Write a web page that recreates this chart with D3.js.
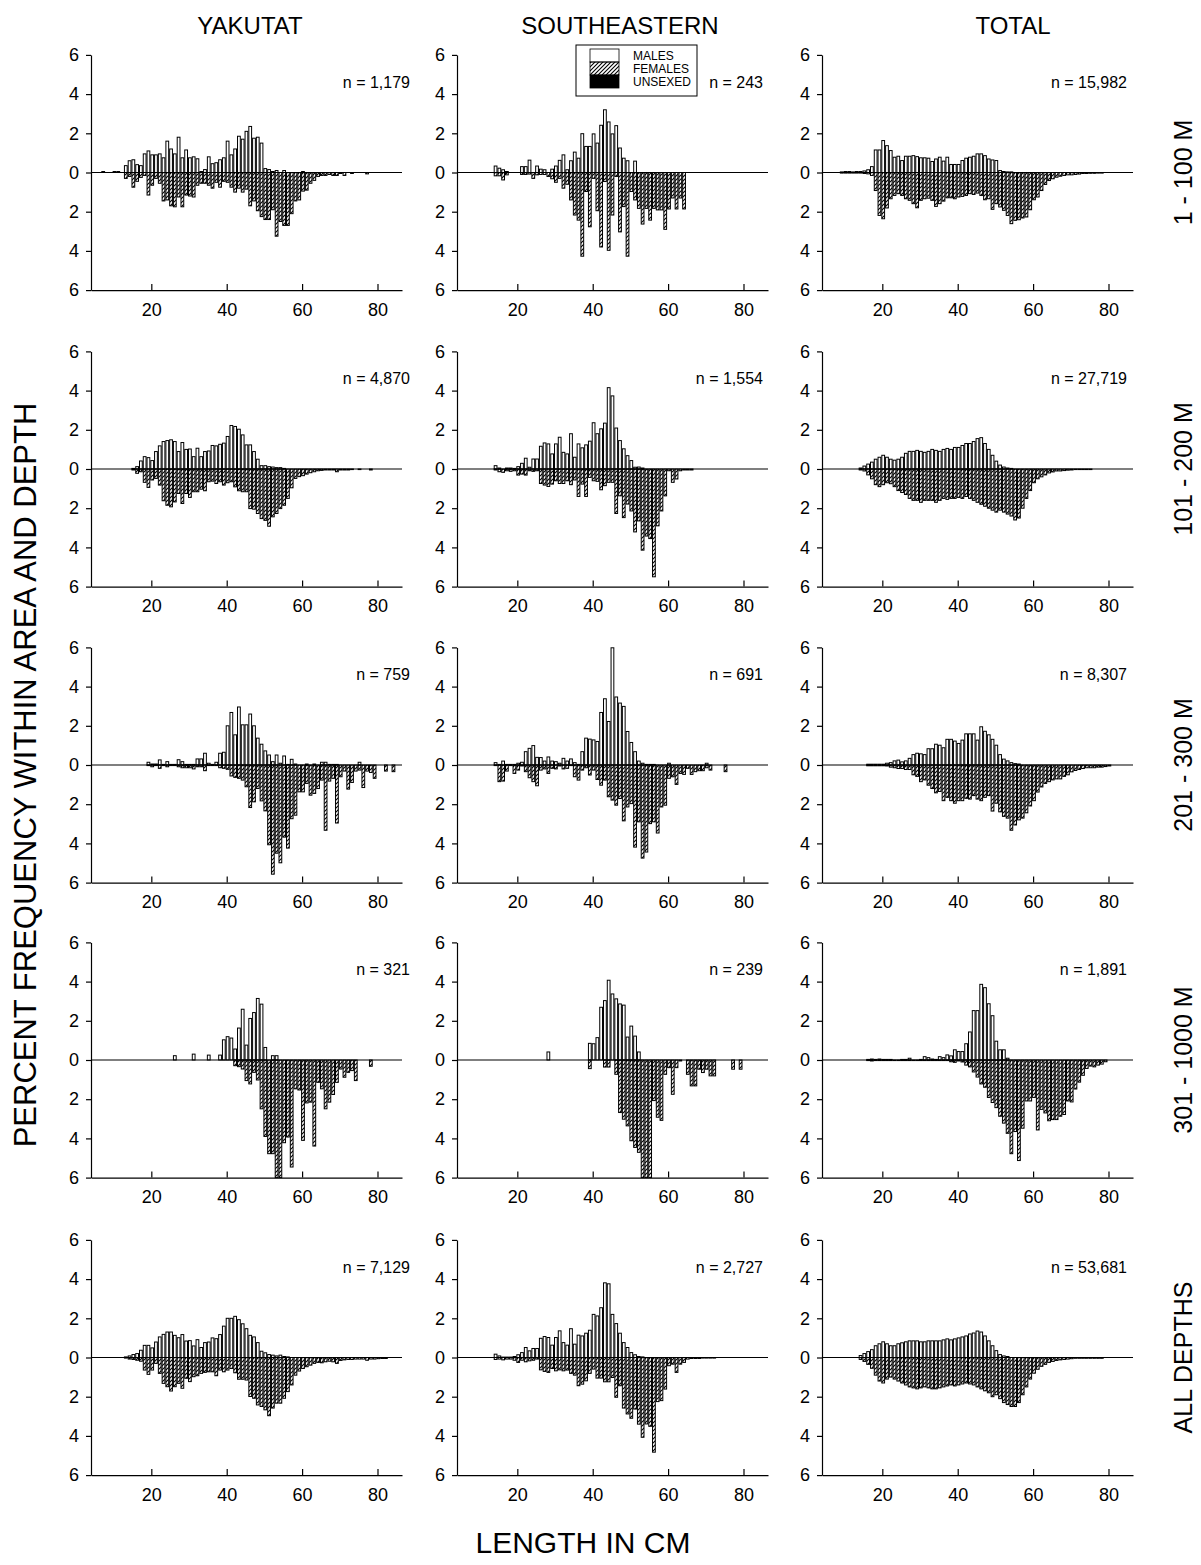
<!DOCTYPE html>
<html>
<head>
<meta charset="utf-8">
<script src="https://cdn.jsdelivr.net/npm/d3@7"></script>
<style>
  body { margin: 0; background: #fff; }
  svg text { font-family: 'Liberation Sans', Arial, Helvetica, sans-serif; fill: #000; }
</style>
</head>
<body>
<svg id="chart" width="1201" height="1565"></svg>
<script>
const areas = ['YAKUTAT', 'SOUTHEASTERN', 'TOTAL']
const depths = ['1 - 100 M', '101 - 200 M', '201 - 300 M', '301 - 1000 M', 'ALL DEPTHS']
const sampleSizes = [
  ['1,179', '243', '15,982'],
  ['4,870', '1,554', '27,719'],
  ['759', '691', '8,307'],
  ['321', '239', '1,891'],
  ['7,129', '2,727', '53,681']
]
const yTickValues = [-6, -4, -2, 0, 2, 4, 6]
const xTickValues = [20, 40, 60, 80]
const legendItems = ['MALES', 'FEMALES', 'UNSEXED']

// percent per 1-cm length class, first value belongs to the *Start length (cm)
const yak1Start = 7
const yak1Males = [0.05, 0, 0, 0.05, 0.05, 0, 0.35, 0.6, 0.65, 0.4, 0.35, 0.95, 1.1,
  0.9, 0.9, 0.95, 0.75, 1.6, 1.2, 0.95, 1.8, 0.75, 1.15,
  0.75, 0.8, 0.7, 0.05, 0.15, 0.8, 0.45, 0.5, 0.65, 0.75,
  1.6, 0.9, 1.2, 1.85, 1.7, 2.1, 2.35, 1.75, 1.8, 1.5,
  0.2, 0.15, 0.05, 0.1, 0, 0.1, 0, 0, 0, 0, 0.05]
const yak1Females = [0, 0, 0, 0, 0, 0, 0.3, 0.2, 0.75, 0.45, 0.25, 0.15, 1.15,
  0.65, 0.3, 0.55, 1.45, 1.4, 1.7, 1.75, 1.25, 1.75, 1.15,
  1.2, 1.25, 0.65, 0.55, 0.55, 0.65, 0.8, 0.5, 0.75, 0.45,
  0.5, 0.75, 1.0, 0.8, 1.0, 0.85, 1.7, 1.45, 1.95, 2.25,
  2.4, 2.4, 1.9, 3.25, 2.5, 2.7, 2.7, 2.1, 1.45, 1.4,
  0.95, 0.9, 0.55, 0.4, 0.2, 0.15, 0.15, 0.1, 0.15, 0.15,
  0.05, 0.15, 0, 0.05, 0, 0, 0, 0.07]

const se1Start = 14
const se1Males = [0.33, 0.22, 0.14, 0.05, 0, 0,
  0, 0.3, 0.3, 0.63, 0, 0.33, 0.17, 0.14, 0, 0.17,
  0.33, 0.62, 0.9, 0.14, 0.6, 1.04, 0.73, 1.98, 1.33, 1.33,
  1.97, 1.5, 2.41, 3.2, 2.58, 1.97, 2.39, 1.25, 0.73, 0.6,
  0, 0.58]
const se1Females = [0.17, 0.17, 0.38, 0.12, 0, 0,
  0, 0.1, 0.1, 0.08, 0.3, 0.12, 0.1, 0.1, 0.2, 0.32,
  0.5, 0.3, 0.8, 0.6, 1.4, 2.17, 2.43, 4.27, 0.97, 2.77,
  0.3, 1.95, 3.8, 0.46, 3.97, 2.17, 0.2, 3.03, 1.74, 4.27,
  0.97, 1.4, 1.83, 2.63, 1.83, 2.43, 1.83, 1.91, 1.91, 2.9,
  1.86, 1.3, 1.86, 1.3, 1.86]

const tot1Start = 9
const tot1Males = [0.03, 0.05, 0.05, 0.03, 0.05, 0.05, 0.08, 0.14, 0.3, 1.15, 1.15,
  1.63, 1.37, 1.12, 0.78, 0.83, 0.61, 0.83, 0.83, 0.86, 0.81,
  0.75, 0.75, 0.73, 0.56, 0.69, 0.78, 0.58, 0.78, 0.41, 0.41,
  0.41, 0.61, 0.73, 0.78, 0.83, 0.95, 0.95, 0.86, 0.69, 0.64,
  0.61, 0.1, 0.05, 0.03, 0.03]
const tot1Females = [0.03, 0.03, 0.03, 0.03, 0.03, 0.03, 0.05, 0.07, 0.15, 0.92, 2.19,
  2.36, 1.81, 1.34, 1.17, 1.08, 1.17, 1.34, 1.42, 1.59, 1.8,
  1.42, 1.34, 1.31, 1.42, 1.73, 1.59, 1.46, 1.29, 1.29, 1.34,
  1.25, 1.22, 1.17, 1.08, 1.12, 1.05, 1.17, 1.39, 1.34, 1.88,
  1.59, 1.76, 1.93, 2.19, 2.61, 2.44, 2.41, 2.32, 2.27, 1.9,
  1.39, 1.25, 0.92, 0.61, 0.41, 0.32, 0.24, 0.19, 0.15, 0.12,
  0.12, 0.1, 0.08, 0.05, 0.05, 0.04, 0.04, 0.03, 0.03]

const yak2Start = 15
const yak2Males = [0.03, 0.12, 0.41, 0.63, 0.58,
  0.43, 0.89, 1.18, 1.4, 1.45, 1.49, 1.4, 0.89, 1.35, 1.0,
  1.02, 0.63, 1.06, 0.63, 0.89, 0.92, 1.2, 1.18, 1.26, 1.32,
  1.66, 2.22, 2.17, 2.03, 1.74, 1.23, 1.23, 0.89, 0.5, 0.17,
  0.17, 0.12, 0.1, 0.07, 0.07, 0.03]
const yak2Females = [0.05, 0.22, 0.14, 0.68, 0.94,
  0.56, 0.48, 0.82, 1.62, 1.85, 1.93, 1.68, 1.25, 1.76, 1.25,
  1.45, 1.16, 1.16, 1.03, 1.11, 0.65, 0.62, 0.74, 0.65, 0.82,
  0.7, 0.65, 0.91, 1.11, 1.16, 1.16, 2.02, 2.05, 2.27, 2.53,
  2.62, 2.92, 2.44, 2.27, 2.02, 1.85, 1.5, 0.96, 0.48, 0.39,
  0.34, 0.26, 0.19, 0.14, 0.09, 0.07, 0.05, 0.05, 0.05, 0.14,
  0.05, 0.05, 0.05, 0.03, 0, 0.03, 0, 0, 0.05]

const se2Start = 14
const se2Males = [0.17, 0.05, 0, 0.05, 0.05, 0.03,
  0.12, 0.29, 0.55, 0.09, 0.51, 0.51, 1.16, 1.33, 1.28, 0.77,
  1.28, 1.62, 0.85, 0.77, 1.8, 0.6, 1.28, 1.08, 1.23, 1.42,
  2.36, 1.8, 2.05, 2.34, 4.15, 3.73, 2.09, 1.45, 1.03, 0.68,
  0.43, 0.09, 0.1, 0.05]
const se2Females = [0.05, 0.14, 0.17, 0.09, 0.12, 0.09,
  0.31, 0.26, 0.31, 0.09, 0.12, 0.09, 0.74, 0.82, 0.89, 0.77,
  0.6, 0.74, 0.74, 0.6, 0.8, 0.56, 1.4, 0.77, 1.4, 0.43,
  0.6, 0.63, 1.06, 0.85, 0.68, 0.68, 2.27, 1.37, 2.48, 1.79,
  2.14, 3.21, 2.65, 4.14, 3.42, 3.55, 5.5, 2.9, 2.14, 1.37,
  0.09, 0.68, 0.51, 0.09, 0.05, 0.05, 0.05]

const tot2Start = 14
const tot2Males = [0.05, 0.15, 0.25, 0.35, 0.5, 0.6,
  0.7, 0.6, 0.5, 0.45, 0.5, 0.6, 0.8, 0.9, 0.9, 0.95,
  0.9, 0.85, 0.9, 1.0, 0.95, 0.9, 1.0, 1.05, 1.0, 1.1,
  1.1, 1.2, 1.3, 1.3, 1.4, 1.55, 1.6, 1.3, 1.0, 0.7,
  0.4, 0.2, 0.1, 0.05, 0.03]
const tot2Females = [0.05, 0.1, 0.3, 0.5, 0.8, 0.9,
  0.8, 0.7, 0.75, 0.9, 1.1, 1.2, 1.3, 1.5, 1.6, 1.6,
  1.7, 1.6, 1.6, 1.6, 1.7, 1.6, 1.5, 1.55, 1.5, 1.5,
  1.45, 1.5, 1.4, 1.5, 1.6, 1.7, 1.8, 1.9, 2.0, 2.1,
  2.2, 2.1, 2.2, 2.3, 2.4, 2.6, 2.5, 2.0, 1.5, 1.1,
  0.7, 0.5, 0.4, 0.3, 0.2, 0.15, 0.1, 0.1, 0.08, 0.06,
  0.05, 0.03, 0.03, 0.03, 0.03, 0.03]

const yak3Start = 19
const yak3Males = [0.14,
  0.05, 0.05, 0.26, 0.03, 0.17, 0.03, 0.03, 0.27, 0.17, 0.03,
  0.03, 0.03, 0.31, 0.31, 0.6, 0.09, 0.03, 0.14, 0.6, 0.65,
  2.0, 2.68, 1.54, 2.96, 2.05, 2.05, 2.6, 2.0, 1.37, 1.06,
  0.72, 0.51, 0.17, 0.51, 0.09, 0.46, 0.03, 0.29, 0.05, 0,
  0, 0.05, 0, 0.05, 0, 0.14, 0.14, 0.03, 0.03, 0.03,
  0, 0, 0, 0, 0, 0.14]
const yak3Females = [0.03,
  0.09, 0.03, 0.17, 0.03, 0.09, 0.03, 0.03, 0.09, 0.14, 0.14,
  0.14, 0.2, 0.09, 0.09, 0.29, 0.03, 0.03, 0.03, 0.14, 0.17,
  0.22, 0.56, 0.63, 0.68, 0.77, 1.11, 2.17, 1.88, 1.2, 1.83,
  2.34, 4.07, 5.57, 4.5, 4.99, 3.68, 4.24, 2.74, 2.56, 1.37,
  1.37, 0.94, 1.54, 1.45, 1.2, 0.77, 3.33, 0.82, 0.68, 2.96,
  0.6, 0.31, 1.23, 0.89, 0.31, 0.26, 1.15, 0.31, 0.38, 0.68,
  0, 0, 0.31, 0, 0.34]

const se3Start = 14
const se3Males = [0.12, 0.03, 0.2, 0.03, 0.03, 0.03,
  0.09, 0.14, 0.68, 0.85, 0.99, 0.39, 0.38, 0.2, 0.41, 0.2,
  0.17, 0.09, 0.34, 0.2, 0.31, 0.12, 0.03, 0.68, 1.37, 1.32,
  1.28, 1.2, 2.68, 3.38, 2.22, 5.98, 3.47, 3.16, 2.99, 1.71,
  1.15, 0.68, 0.2, 0.09, 0.03, 0.03, 0.03, 0, 0, 0,
  0.09, 0, 0, 0, 0, 0, 0, 0, 0, 0, 0.09]
const se3Females = [0.03, 0.85, 0.82, 0.31, 0.03, 0.43,
  0.26, 0.05, 0.34, 0.65, 0.85, 1.06, 0.26, 0.2, 0.43, 0.17,
  0.2, 0.05, 0.2, 0.17, 0.03, 0.6, 0.77, 0.26, 0.14, 0.51,
  0.26, 0.74, 1.03, 0.77, 1.62, 1.79, 2.05, 1.71, 2.85, 2.14,
  1.97, 4.19, 2.9, 4.75, 4.44, 2.99, 2.9, 3.47, 2.14, 2.05,
  0.68, 0.6, 0.99, 0.43, 0.48, 0.17, 0.48, 0.34, 0.29, 0.29,
  0.14, 0.26, 0, 0, 0, 0.34]

const tot3Start = 16
const tot3Males = [0.04, 0.04, 0.04, 0.04,
  0.04, 0.09, 0.12, 0.21, 0.25, 0.16, 0.21, 0.34, 0.53, 0.6,
  0.57, 0.53, 0.83, 0.83, 1.06, 1.01, 0.88, 1.31, 1.31, 1.22,
  1.1, 1.27, 1.59, 1.59, 1.59, 1.27, 1.95, 1.72, 1.54, 1.31,
  1.01, 0.53, 0.3, 0.21, 0.12, 0.07, 0.05]
const tot3Females = [0.04, 0.04, 0.04, 0.04,
  0.04, 0.05, 0.11, 0.14, 0.18, 0.18, 0.23, 0.23, 0.5, 0.58,
  0.85, 0.76, 1.03, 1.2, 1.42, 1.35, 1.82, 1.65, 1.82, 1.95,
  1.82, 1.82, 1.7, 1.74, 1.56, 1.74, 1.82, 1.65, 1.56, 2.35,
  1.95, 2.39, 2.62, 2.71, 3.33, 3.06, 2.8, 2.71, 2.44, 2.09,
  1.82, 1.38, 1.12, 0.94, 0.85, 0.76, 0.71, 0.71, 0.58, 0.5,
  0.35, 0.28, 0.23, 0.18, 0.14, 0.14, 0.14, 0.11, 0.11, 0.08, 0.05]

const yak4Start = 26
const yak4Males = [0.22, 0, 0, 0,
  0, 0.3, 0, 0, 0, 0.25, 0, 0, 0.25, 1.03,
  1.19, 1.12, 0.56, 1.63, 2.59, 0.76, 2.12, 2.42, 3.14, 2.85,
  0.64, 0, 0.22, 0.22]
const yak4Females = [0, 0, 0, 0,
  0, 0, 0, 0, 0, 0, 0, 0, 0, 0,
  0, 0, 0.29, 0.34, 0.46, 1.05, 1.22, 0.63, 1.02, 2.49,
  3.9, 4.78, 4.78, 6, 6, 4.22, 3.93, 5.46, 1.47, 1.53,
  4.1, 2.19, 2.15, 4.39, 1.14, 1.47, 2.49, 2.15, 1.76, 1.14,
  0.46, 0.88, 0.63, 0.54, 1.05, 0, 0, 0, 0.32]

const se4Start = 28
const se4Males = [0.41, 0,
  0, 0, 0, 0, 0, 0, 0, 0, 0, 0.85,
  0.83, 1.14, 2.69, 3.03, 4.07, 3.37, 3.12, 2.86, 2.8, 1.17,
  1.73, 1.22, 0.41]
const se4Females = [0, 0,
  0, 0, 0, 0, 0, 0, 0, 0, 0, 0.44,
  0, 0, 0, 0.36, 0.36, 0, 0.73, 2.68, 3.02, 3.36,
  4.12, 4.46, 4.71, 6, 6, 6, 2.07, 2.92, 3.08, 0.73,
  0.39, 1.75, 0.39, 0.05, 0, 0.73, 1.32, 1.32, 0.47, 0.64,
  0.47, 0.81, 0.81, 0, 0, 0, 0, 0.47, 0, 0.47]

const tot4Start = 16
const tot4Males = [0.03, 0.05, 0.03, 0.05,
  0.03, 0.03, 0.03, 0, 0, 0.03, 0.03, 0.09, 0, 0,
  0.03, 0.17, 0.12, 0.05, 0.03, 0.17, 0.12, 0.26, 0.21, 0.52,
  0.43, 0.43, 0.83, 1.43, 2.52, 2.52, 3.86, 3.69, 2.87, 2.26,
  0.96, 0.52, 0.52, 0.09]
const tot4Females = [0.03, 0.05, 0.03, 0.03,
  0.03, 0.03, 0.03, 0.03, 0.03, 0.03, 0.03, 0.03, 0.03, 0.03,
  0.03, 0.03, 0.03, 0.03, 0.03, 0.03, 0.03, 0.03, 0.09, 0.12,
  0.05, 0.1, 0.26, 0.35, 0.61, 0.87, 1.22, 1.39, 1.91, 2.17,
  2.43, 2.87, 3.22, 3.74, 4.78, 3.65, 5.13, 3.48, 2.09, 2.09,
  1.91, 3.57, 2.52, 2.7, 3.1, 3.04, 3.04, 2.87, 2.78, 2.09,
  2.14, 1.48, 1.13, 0.78, 0.43, 0.31, 0.35, 0.26, 0.21, 0.09]

const yak5Start = 13
const yak5Males = [0.03, 0.08, 0.15, 0.2, 0.37, 0.62, 0.62,
  0.49, 0.79, 1.05, 1.18, 1.3, 1.3, 1.13, 1.01, 1.17, 0.84,
  0.86, 0.59, 0.91, 0.51, 0.76, 0.79, 1.0, 0.96, 1.17, 1.6,
  2.0, 2.0, 2.1, 1.93, 1.72, 1.47, 1.13, 1.05, 0.76, 0.32,
  0.24, 0.15, 0.12, 0.08, 0.12, 0.05, 0.03]
const yak5Females = [0.03, 0.08, 0.1, 0.14, 0.19, 0.64, 0.86,
  0.64, 0.3, 0.81, 1.32, 1.49, 1.71, 1.49, 1.32, 1.57, 1.06,
  1.23, 0.98, 0.93, 0.81, 0.76, 0.73, 0.73, 0.93, 0.64, 0.73,
  0.64, 0.56, 0.78, 1.11, 1.11, 1.15, 1.99, 2.08, 2.42, 2.5,
  2.67, 2.97, 2.58, 2.33, 2.33, 2.08, 1.74, 1.4, 0.9, 0.69,
  0.56, 0.47, 0.39, 0.3, 0.25, 0.27, 0.22, 0.19, 0.22, 0.3,
  0.15, 0.12, 0.1, 0.1, 0.08, 0.08, 0.08, 0.14, 0.08, 0.08, 0.06, 0.05, 0.05]

const se5Start = 14
const se5Males = [0.17, 0.08, 0.02, 0.02, 0.02, 0.05,
  0.14, 0.25, 0.51, 0.34, 0.46, 0.46, 0.98, 1.07, 1.02, 0.63,
  1.02, 1.36, 0.76, 0.63, 1.47, 0.68, 1.14, 1.1, 1.24, 1.39,
  2.2, 2.12, 2.54, 3.81, 3.76, 2.2, 1.73, 1.24, 0.76, 0.51,
  0.25, 0.14, 0.05, 0.03]
const se5Females = [0.1, 0.08, 0.12, 0.08, 0.08, 0.14,
  0.25, 0.14, 0.22, 0.17, 0.14, 0.08, 0.63, 0.71, 0.76, 0.56,
  0.68, 0.63, 0.68, 0.64, 0.81, 0.9, 1.44, 1.36, 1.19, 0.81,
  0.59, 1.05, 1.05, 1.24, 1.24, 1.02, 2.03, 1.44, 2.58, 2.88,
  3.1, 2.63, 3.4, 4.07, 3.39, 3.51, 4.83, 2.25, 2.2, 1.61,
  0.42, 0.34, 0.76, 0.34, 0.25, 0.08, 0.05, 0.05, 0.05, 0.03, 0.03, 0.03, 0.03]

const tot5Start = 14
const tot5Males = [0.1, 0.2, 0.3, 0.4, 0.6, 0.7,
  0.8, 0.7, 0.6, 0.6, 0.7, 0.75, 0.8, 0.85, 0.85, 0.85,
  0.8, 0.8, 0.85, 0.85, 0.85, 0.85, 0.9, 0.95, 0.9, 0.95,
  1.0, 1.05, 1.1, 1.2, 1.25, 1.35, 1.3, 1.1, 0.85, 0.6,
  0.35, 0.15, 0.08, 0.05]
const tot5Females = [0.1, 0.2, 0.35, 0.55, 0.9, 1.2,
  1.3, 1.1, 1.0, 1.1, 1.2, 1.3, 1.4, 1.5, 1.55, 1.6,
  1.55, 1.5, 1.55, 1.6, 1.6, 1.55, 1.5, 1.45, 1.4, 1.45,
  1.4, 1.35, 1.3, 1.35, 1.4, 1.5, 1.6, 1.7, 1.8, 2.0,
  1.9, 2.1, 2.3, 2.4, 2.5, 2.5, 2.3, 1.9, 1.5, 1.1,
  0.8, 0.6, 0.45, 0.35, 0.25, 0.2, 0.15, 0.12, 0.1, 0.08,
  0.06, 0.04, 0.04, 0.04, 0.04, 0.04, 0.04, 0.04, 0.04]

const panels = [
  [yak1Start, yak1Males, yak1Females], [se1Start, se1Males, se1Females], [tot1Start, tot1Males, tot1Females],
  [yak2Start, yak2Males, yak2Females], [se2Start, se2Males, se2Females], [tot2Start, tot2Males, tot2Females],
  [yak3Start, yak3Males, yak3Females], [se3Start, se3Males, se3Females], [tot3Start, tot3Males, tot3Females],
  [yak4Start, yak4Males, yak4Females], [se4Start, se4Males, se4Females], [tot4Start, tot4Males, tot4Females],
  [yak5Start, yak5Males, yak5Females], [se5Start, se5Males, se5Females], [tot5Start, tot5Males, tot5Females]
]

// layout
const colLeft = [91, 457, 822]
const rowZero = [172.5, 469, 765, 1060, 1357.5]
const halfH = 117.6
const plotW = 311
const titleX = [250, 620, 1013]
const nRight = [410, 763, 1127]
const font = "'Liberation Sans', Arial, Helvetica, sans-serif"

const svg = d3.select('#chart')

const defs = svg.append('defs')
defs.append('pattern')
  .attr('id', 'hatch')
  .attr('patternUnits', 'userSpaceOnUse')
  .attr('width', 4).attr('height', 4)
  .append('path')
  .attr('d', 'M-1,1 L1,-1 M0,4 L4,0 M3,5 L5,3')
  .attr('stroke', '#000')
  .attr('stroke-width', 1.1)

const bins = (start, values) => values
  .map((v, i) => ({ cm: start + i, v }))
  .filter(d => d.v > 0)

panels.forEach((p, i) => {
  const row = Math.floor(i / 3)
  const col = i % 3
  const [start, males, females] = p
  const x0 = colLeft[col]
  const zero = rowZero[row]

  const x = d3.scaleLinear().domain([4, 86.5]).range([x0, x0 + plotW])
  const y = d3.scaleLinear().domain([-6, 6]).range([zero + halfH, zero - halfH])
  const binW = x(1) - x(0)

  const g = svg.append('g')

  g.selectAll('rect.male')
    .data(bins(start, males))
    .join('rect')
    .attr('class', 'male')
    .attr('x', d => x(d.cm) - 0.5)
    .attr('width', binW - 1)
    .attr('y', d => y(d.v))
    .attr('height', d => y(0) - y(d.v))
    .attr('fill', '#fff')
    .attr('stroke', '#000')
    .attr('stroke-width', 1)

  g.selectAll('rect.female')
    .data(bins(start, females))
    .join('rect')
    .attr('class', 'female')
    .attr('x', d => x(d.cm) - 0.5)
    .attr('width', binW - 1)
    .attr('y', y(0))
    .attr('height', d => y(-d.v) - y(0))
    .attr('fill', 'url(#hatch)')
    .attr('stroke', '#000')
    .attr('stroke-width', 1)

  // zero line
  g.append('line')
    .attr('x1', x0).attr('x2', x0 + plotW)
    .attr('y1', y(0)).attr('y2', y(0))
    .attr('stroke', '#000').attr('stroke-width', 1.2)

  const yAxis = d3.axisLeft(y)
    .tickValues(yTickValues)
    .tickSize(5)
    .tickSizeOuter(0)
    .tickPadding(7)
    .tickFormat(d => Math.abs(d))

  const xAxis = d3.axisBottom(x)
    .tickValues(xTickValues)
    .tickSizeInner(-6)
    .tickSizeOuter(0)
    .tickPadding(13)

  const ya = g.append('g').attr('transform', `translate(${x0},0)`).call(yAxis)
  const xa = g.append('g').attr('transform', `translate(0,${zero + halfH})`).call(xAxis)
  ;[ya, xa].forEach(a => {
    a.attr('font-size', 18).attr('font-family', font)
    a.selectAll('text').attr('fill', '#000')
    a.selectAll('line, path').attr('stroke', '#000').attr('stroke-width', 1.2)
  })

  g.append('text')
    .attr('x', nRight[col])
    .attr('y', zero - 85)
    .attr('text-anchor', 'end')
    .attr('font-size', 16)
    .text(`n = ${sampleSizes[row][col]}`)
})

// column titles
svg.selectAll('text.area')
  .data(areas)
  .join('text')
  .attr('class', 'area')
  .attr('x', (d, i) => titleX[i])
  .attr('y', 34)
  .attr('text-anchor', 'middle')
  .attr('font-size', 24)
  .text(d => d)

// depth labels on the right
svg.selectAll('text.depth')
  .data(depths)
  .join('text')
  .attr('class', 'depth')
  .attr('transform', (d, i) => `translate(1192,${rowZero[i]}) rotate(-90)`)
  .attr('text-anchor', 'middle')
  .attr('font-size', 25)
  .text(d => d)

svg.append('text')
  .attr('transform', 'translate(36,775) rotate(-90)')
  .attr('text-anchor', 'middle')
  .attr('font-size', 31)
  .text('PERCENT FREQUENCY WITHIN AREA AND DEPTH')

svg.append('text')
  .attr('x', 583)
  .attr('y', 1553)
  .attr('text-anchor', 'middle')
  .attr('font-size', 30)
  .text('LENGTH IN CM')

// legend
const legend = svg.append('g').attr('transform', 'translate(576,45)')
legend.append('rect')
  .attr('width', 121).attr('height', 51)
  .attr('fill', '#fff').attr('stroke', '#000').attr('stroke-width', 1)
const swatchFill = ['#fff', 'url(#hatch)', '#000']
legendItems.forEach((name, i) => {
  legend.append('rect')
    .attr('x', 14).attr('y', 4 + i * 13)
    .attr('width', 29).attr('height', 13)
    .attr('fill', swatchFill[i])
    .attr('stroke', '#000').attr('stroke-width', 0.8)
  legend.append('text')
    .attr('x', 57).attr('y', 15 + i * 13)
    .attr('font-size', 12)
    .text(name)
})
</script>
</body>
</html>
